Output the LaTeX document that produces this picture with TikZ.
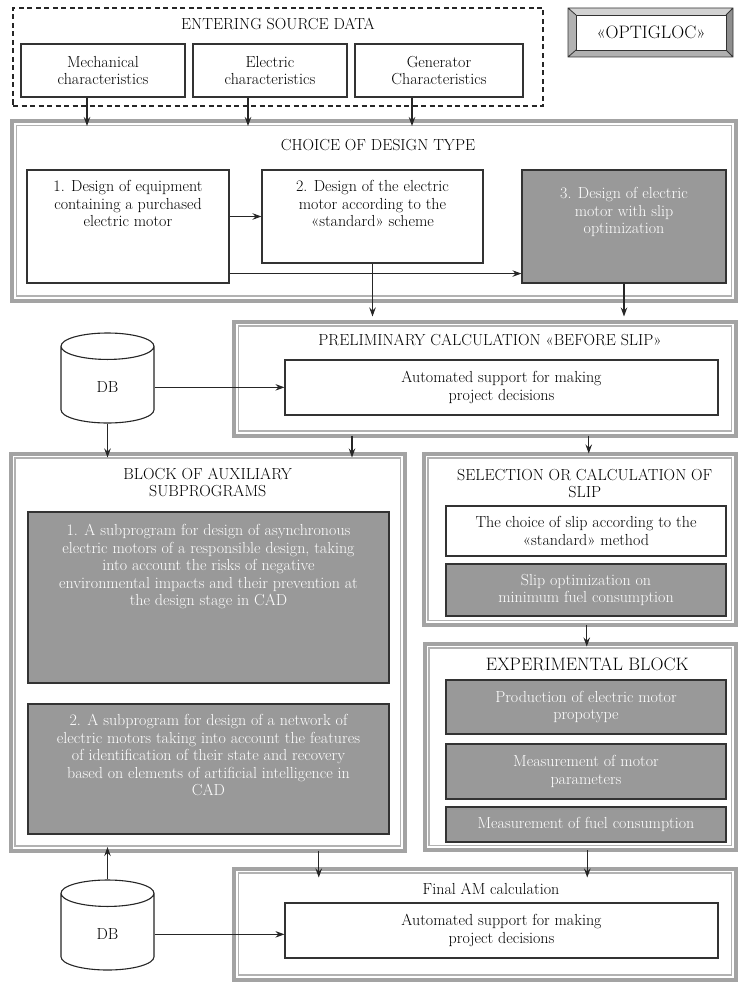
\documentclass[tikz,border=0pt]{standalone}
\usepackage{fontspec}
\usepackage{xcolor}
\usepackage{tikz}
\usetikzlibrary{shapes.geometric, arrows.meta, positioning, calc}
\newcommand{\boxfont}{\fontsize{16}{17.5}\selectfont\addfontfeature{FakeBold=0.3}}
\newcommand{\bigfont}{\fontsize{18}{20}\selectfont\addfontfeature{FakeBold=0.3}}
\definecolor{framegray}{HTML}{A3A3A3}
\definecolor{thingray}{HTML}{B2B2B2}
\definecolor{boxgray}{HTML}{999999}
\definecolor{bevellight}{HTML}{D2D2D2}
\definecolor{beveldark}{HTML}{8E8E8E}
\tikzstyle{plainbox} = [rectangle, draw=black!80, line width=1.1pt, fill=white, align=center, font=\boxfont, inner sep=2pt]
\tikzstyle{greybox} = [plainbox, fill=boxgray, text=white]
\tikzstyle{blockframe} = [rectangle, draw=framegray, line width=4pt, outer sep=0pt]
\tikzstyle{framethin} = [draw=thingray, line width=1.3pt]
\tikzstyle{srcframe} = [rectangle, draw=black!85, line width=1.1pt, dash pattern=on 5pt off 3.5pt, outer sep=0pt]
\tikzstyle{dbase} = [cylinder, shape border rotate=90, aspect=0.93, draw=black!85, line width=1.1pt, fill=white, minimum width=93pt, minimum height=90pt, font=\boxfont, anchor=shape center]
\tikzstyle{toptext} = [anchor=north, inner sep=0pt, align=center, font=\boxfont]
\tikzstyle{arrow} = [line width=1.1pt, -{Stealth[length=9pt, width=6.5pt, inset=3pt]}, draw=black!85]

\begin{document}
\begin{tikzpicture}[x=1pt, y=-1pt]
    \useasboundingbox (0,0) rectangle (739,982);

    % source data
    \node (source) [srcframe, minimum width=530, minimum height=98, label={[toptext, yshift=-10pt]north:ENTERING SOURCE DATA}] at (278,57) {};
    \node (mech) [plainbox, minimum width=164, minimum height=53] at (103,70.5) {Mechanical\\characteristics};
    \node (elec) [plainbox, minimum width=154, minimum height=53] at (270,70.5) {Electric\\characteristics};
    \node (gen) [plainbox, minimum width=168, minimum height=53] at (439,70.5) {Generator\\Characteristics};

    % logo
    \fill[bevellight] (568,8) -- (733,8) -- (726,15) -- (576,15) -- cycle;
    \fill[bevellight!85!black] (568,8) -- (576,15) -- (576,50) -- (568,57) -- cycle;
    \fill[beveldark] (733,8) -- (733,57) -- (726,50) -- (726,15) -- cycle;
    \fill[beveldark!70!white] (568,57) -- (733,57) -- (726,50) -- (576,50) -- cycle;
    \draw[black!80, line width=0.8pt] (568,8) rectangle (733,57) (568,8) -- (576,15) (733,8) -- (726,15) (568,57) -- (576,50) (733,57) -- (726,50);
    \node (logo) [draw=black!80, line width=0.8pt, fill=white, minimum width=150, minimum height=35, font=\bigfont] at (651,32.5) {«OPTIGLOC»};

    % frames
    \node (choice) [blockframe, minimum width=724, minimum height=179.5, label={[toptext, xshift=4pt, yshift=-18pt]north:CHOICE OF DESIGN TYPE}] at (374,210.75) {};
    \node (prelim) [blockframe, minimum width=502, minimum height=114, label={[toptext, xshift=5pt, yshift=-12pt]north:PRELIMINARY CALCULATION «BEFORE SLIP»}] at (485,378.5) {};
    \node (aux) [blockframe, minimum width=394.5, minimum height=397, label={[toptext, yshift=-14pt]north:BLOCK OF AUXILIARY\\SUBPROGRAMS}] at (207.75,652) {};
    \node (slip) [blockframe, minimum width=312.5, minimum height=171.5, label={[toptext, xshift=5pt, yshift=-15pt]north:SELECTION OR CALCULATION OF\\SLIP}] at (579.75,539.25) {};
    \node (exper) [blockframe, minimum width=311.5, minimum height=206.5, label={[toptext, font=\bigfont, xshift=7pt, yshift=-14pt]north:EXPERIMENTAL BLOCK}] at (580.25,746.75) {};
    \node (final) [blockframe, minimum width=502, minimum height=111, label={[toptext, xshift=6pt, yshift=-14pt]north:Final AM calculation}] at (485,924) {};
    \foreach \f in {choice, prelim, aux, slip, exper, final}
        \draw[framethin] ($(\f.north west)+(4.5,4.5)$) rectangle ($(\f.south east)+(-4.5,-4.5)$);

    % design type
    \node (box1) [plainbox, minimum width=202, minimum height=113, label={[toptext, yshift=-11pt]north:1. Design of equipment\\containing a purchased\\electric motor}] at (128,226.5) {};
    \node (box2) [plainbox, minimum width=221, minimum height=93, label={[toptext, yshift=-11pt]north:2. Design of the electric\\motor according to the\\«standard» scheme}] at (372.5,216.5) {};
    \node (box3) [greybox, minimum width=204, minimum height=113, label={[toptext, text=white, yshift=-18pt]north:3. Design of electric\\motor with slip\\optimization}] at (624,226.5) {};

    % preliminary
    \node (db1) [dbase] at (107.5,378) {DB};
    \node (auto1) [plainbox, minimum width=433, minimum height=55] at (501.5,387.5) {Automated support for making\\project decisions};

    % auxiliary subprograms
    \node (sub1) [greybox, minimum width=361, minimum height=171, label={[toptext, text=white, yshift=-13pt]north:1. A subprogram for design of asynchronous\\electric motors of a responsible design, taking\\into account the risks of negative\\environmental impacts and their prevention at\\the design stage in CAD}] at (208.5,597.5) {};
    \node (sub2) [greybox, minimum width=361, minimum height=130, label={[toptext, text=white, yshift=-11pt]north:2. A subprogram for design of a network of\\electric motors taking into account the features\\of identification of their state and recovery\\based on elements of artificial intelligence in\\CAD}] at (208.5,769) {};

    % slip
    \node (stdslip) [plainbox, minimum width=280, minimum height=50] at (586,531) {The choice of slip according to the\\«standard» method};
    \node (optslip) [greybox, minimum width=280, minimum height=52] at (586,590) {Slip optimization on\\minimum fuel consumption};

    % experimental
    \node (proto) [greybox, minimum width=280, minimum height=54] at (586,707) {Production of electric motor\\propotype};
    \node (meas) [greybox, minimum width=280, minimum height=55] at (586,771.5) {Measurement of motor\\parameters};
    \node (fuel) [greybox, minimum width=280, minimum height=35] at (586,824.5) {Measurement of fuel consumption};

    % final
    \node (db2) [dbase] at (107.5,925) {DB};
    \node (auto2) [plainbox, minimum width=433, minimum height=55] at (501.5,930.5) {Automated support for making\\project decisions};

    \draw [arrow, shorten >=-5pt] ([xshift=-16pt]mech.south) -- ([xshift=-16pt]mech.south |- choice.north);
    \draw [arrow, shorten >=-5pt] ([xshift=-22pt]elec.south) -- ([xshift=-22pt]elec.south |- choice.north);
    \draw [arrow, shorten >=-5pt] ([xshift=-27pt]gen.south) -- ([xshift=-27pt]gen.south |- choice.north);

    \draw [arrow] (box1.east |- box2.west) -- (box2.west);
    \draw [arrow] ([yshift=10pt]box1.south east) -- ([yshift=10pt]box1.south east -| box3.west);
    \draw [arrow, shorten >=5pt] (box2.south) -- (box2.south |- prelim.north);
    \draw [arrow, shorten >=5pt] (box3.south) -- (box3.south |- prelim.north);

    \draw [arrow] (db1.east) -- (db1.east -| auto1.west);
    \draw [arrow, shorten >=-4pt] (db1.south) -- (db1.south |- aux.north);
    \draw [arrow, shorten >=-4pt] ([xshift=118pt]prelim.south west) -- ([xshift=118pt]prelim.south west |- aux.north);
    \draw [arrow] ([xshift=9pt]prelim.south -| slip.north) -- ([xshift=9pt]slip.north);

    \draw [arrow, shorten >=-3pt] ([xshift=7pt]slip.south) -- ([xshift=7pt]slip.south |- exper.north);
    \draw [arrow, shorten >=-9pt] ([xshift=7pt]exper.south) -- ([xshift=7pt]exper.south |- final.north);
    \draw [arrow, shorten >=-9pt] ([xshift=111pt]aux.south) -- ([xshift=111pt]aux.south |- final.north);

    \draw [arrow, shorten >=-3.5pt] (db2.north) -- (db2.north |- aux.south);
    \draw [arrow] (db2.east) -- (db2.east -| auto2.west);
\end{tikzpicture}
\end{document}
